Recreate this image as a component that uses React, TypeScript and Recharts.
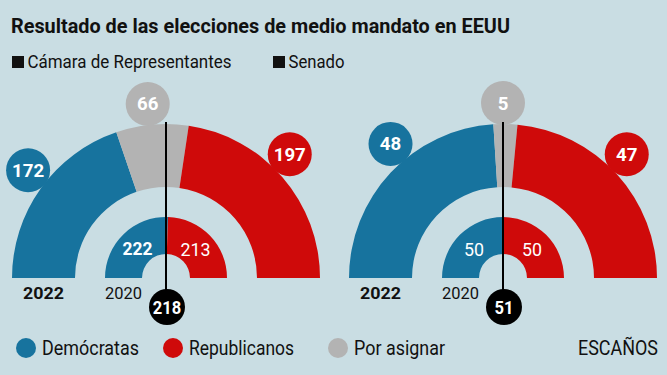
import { PieChart, Pie, Cell } from "recharts";

// seats per party, order: Demócratas, Por asignar, Republicanos
const partyNames = ["Demócratas", "Por asignar", "Republicanos"];
const house2022 = [172, 66, 197];
const senate2022 = [48, 5, 47];
// 2020 result: Demócratas, Republicanos
const house2020 = [222, 213];
const senate2020 = [50, 50];
const majorities = [218, 51];
const chamberNames = ["Cámara de Representantes", "Senado"];
const yearLabels = ["2022", "2020"];
const unitLabel = "ESCAÑOS";
const title = "Resultado de las elecciones de medio mandato en EEUU";

const W = 667;
const H = 375;
const BG = "#c9dde3";
const FONT = "Roboto, 'Noto Sans', sans-serif";
const COLORS: Record<string, string> = {
  "Demócratas": "#17739e",
  "Por asignar": "#b3b3b3",
  "Republicanos": "#cf0a0a",
};
const RAD = Math.PI / 180;

// layout per chamber
const layouts = [
  { cx: 166, cy: 278, labelAngles: [142, 96, 45], boldInner: [true, false], head: 12 },
  { cx: 503, cy: 278, labelAngles: [130, 90, 45], boldInner: [false, false], head: 273 },
];

const outerData = (vals: number[]) =>
  vals.map((v, i) => ({ name: partyNames[i], value: v }));
const innerData = (vals: number[]) =>
  vals.map((v, i) => ({ name: i === 0 ? partyNames[0] : partyNames[2], value: v }));

// condensed look: squeeze Roboto to the given width
function Narrow(props: any) {
  const { children, width, ...rest } = props;
  return (
    <text
      fontFamily={FONT}
      textLength={width}
      lengthAdjust="spacingAndGlyphs"
      {...rest}
    >
      {children}
    </text>
  );
}

function outerLabel(angles: number[]) {
  return (p: any) => {
    const a = angles[p.index];
    const r = 175;
    const x = p.cx + r * Math.cos(a * RAD);
    const y = p.cy - r * Math.sin(a * RAD);
    const s = String(p.value);
    return (
      <g key={"ol" + p.index}>
        <circle cx={x} cy={y} r={22} fill={COLORS[p.payload.name]} />
        <Narrow
          x={x}
          y={y + 6.5}
          width={s.length * 10.7}
          textAnchor="middle"
          fill="#fff"
          fontWeight={700}
          fontSize={18.5}
        >
          {s}
        </Narrow>
      </g>
    );
  };
}

function innerLabel(bold: boolean[]) {
  return (p: any) => {
    const r = 41;
    const x = p.cx + r * Math.cos(p.midAngle * RAD);
    const y = p.cy - r * Math.sin(p.midAngle * RAD);
    const s = String(p.value);
    return (
      <Narrow
        key={"il" + p.index}
        x={x}
        y={y + 6.5}
        width={s.length * 10}
        textAnchor="middle"
        fill="#fff"
        fontWeight={bold[p.index] ? 700 : 400}
        fontSize={18.5}
      >
        {s}
      </Narrow>
    );
  };
}

const legendItems = [
  { name: "Demócratas", x: 26, w: 97 },
  { name: "Republicanos", x: 173, w: 105 },
  { name: "Por asignar", x: 338, w: 91 },
];

export default function App() {
  const all = [
    { outer: house2022, inner: house2020, headW: 204 },
    { outer: senate2022, inner: senate2020, headW: 56 },
  ];
  return (
    <div style={{ position: "absolute", left: 0, top: 0, width: W, height: H, background: BG }}>
      <PieChart width={W} height={H} margin={{ top: 0, right: 0, bottom: 0, left: 0 }}>
        {all.map((c, ci) => (
          <Pie
            key={"o" + ci}
            data={outerData(c.outer)}
            dataKey="value"
            cx={layouts[ci].cx}
            cy={layouts[ci].cy}
            startAngle={180}
            endAngle={0}
            innerRadius={91}
            outerRadius={154}
            stroke="none"
            isAnimationActive={false}
            labelLine={false}
            label={outerLabel(layouts[ci].labelAngles)}
          >
            {c.outer.map((_, i) => (
              <Cell key={i} fill={COLORS[partyNames[i]]} />
            ))}
          </Pie>
        ))}
        {all.map((c, ci) => (
          <Pie
            key={"i" + ci}
            data={innerData(c.inner)}
            dataKey="value"
            cx={layouts[ci].cx}
            cy={layouts[ci].cy}
            startAngle={180}
            endAngle={0}
            innerRadius={24}
            outerRadius={61}
            stroke="none"
            isAnimationActive={false}
            labelLine={false}
            label={innerLabel(layouts[ci].boldInner)}
          >
            {c.inner.map((_, i) => (
              <Cell key={i} fill={i === 0 ? COLORS["Demócratas"] : COLORS["Republicanos"]} />
            ))}
          </Pie>
        ))}
      </PieChart>
      <svg
        width={W}
        height={H}
        style={{ position: "absolute", left: 0, top: 0, pointerEvents: "none" }}
      >
        <Narrow x={11} y={32.5} width={499} fontWeight={700} fontSize={21} fill="#111">
          {title}
        </Narrow>
        {chamberNames.map((n, i) => {
          const x0 = layouts[i].head;
          return (
            <g key={n}>
              <rect x={x0} y={56} width={12} height={12} fill="#111" />
              <Narrow x={x0 + 15.5} y={68.3} width={all[i].headW} fontSize={19} fill="#111">
                {n}
              </Narrow>
            </g>
          );
        })}
        {layouts.map((l, i) => (
          <g key={"m" + i}>
            <Narrow x={l.cx - 143} y={299} width={41} fontWeight={700} fontSize={17} fill="#111">
              {yearLabels[0]}
            </Narrow>
            <Narrow x={l.cx - 61} y={299} width={37} fontSize={17} fill="#111">
              {yearLabels[1]}
            </Narrow>
            <line x1={l.cx} x2={l.cx} y1={122} y2={295} stroke="#000" strokeWidth={2} />
            <circle cx={l.cx + 1} cy={307} r={18} fill="#000" />
            <Narrow
              x={l.cx + 1}
              y={313.5}
              width={String(majorities[i]).length * 9.5}
              textAnchor="middle"
              fontWeight={700}
              fontSize={18}
              fill="#fff"
            >
              {majorities[i]}
            </Narrow>
          </g>
        ))}
        {legendItems.map((it) => (
          <g key={it.name}>
            <circle cx={it.x} cy={348} r={10} fill={COLORS[it.name]} />
            <Narrow x={it.x + 16} y={354.5} width={it.w} fontSize={19.5} fill="#111">
              {it.name}
            </Narrow>
          </g>
        ))}
        <Narrow x={578} y={354.5} width={80} fontSize={19.5} fill="#111">
          {unitLabel}
        </Narrow>
      </svg>
    </div>
  );
}
